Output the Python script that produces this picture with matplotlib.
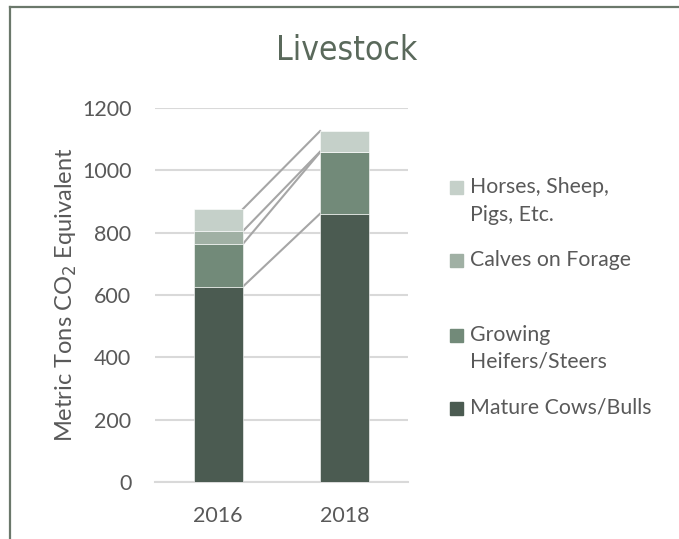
import matplotlib
matplotlib.use("Agg")
import matplotlib.pyplot as plt
from matplotlib.lines import Line2D
from matplotlib.patches import Rectangle
import numpy as np

years = ["2016", "2018"]
series = ["Mature Cows/Bulls", "Growing\nHeifers/Steers", "Calves on Forage", "Horses, Sheep,\nPigs, Etc."]
mature = [627, 861]
growing = [137, 197]
calves = [41, 2]
horses = [71, 66]
colors = ["#4b5b51", "#728a79", "#a0b0a4", "#c5d0c9"]

W, H = 679, 539
fig = plt.figure(figsize=(W / 100, H / 100), dpi=100)
ax = fig.add_axes([155 / W, 1 - 482 / H, (408 - 155) / W, (482 - 108) / H])

x = np.arange(len(years))
bw = 0.39
data = [mature, growing, calves, horses]
bottom = np.zeros(len(years))
tops = []
for vals, c in zip(data, colors):
    v = np.array(vals, dtype=float)
    ax.bar(x, v, bw, bottom=bottom, color=c, edgecolor="white", linewidth=0.4, zorder=3)
    bottom = bottom + v
    tops.append(bottom.copy())

for t in tops:
    ax.plot([x[0] + bw / 2, x[1] - bw / 2], [t[0], t[1]], color="#a6a6a6", lw=1.5, zorder=2)

ax.set_xlim(-0.5, 1.5)
ax.set_ylim(0, 1200)
ax.set_yticks(range(0, 1201, 200))
ax.set_xticks(x)
ax.set_xticklabels(years)
ax.yaxis.grid(True, color="#d9d9d9", lw=1.5, zorder=0)
ax.set_axisbelow(True)
for s in ["top", "right", "left"]:
    ax.spines[s].set_visible(False)
ax.spines["bottom"].set_color("#d9d9d9")
ax.spines["bottom"].set_linewidth(1.5)
ax.tick_params(length=0, labelsize=15.5, labelcolor="#595959")
ax.tick_params(axis="y", pad=17)
ax.tick_params(axis="x", pad=17)
for lab in ax.get_xticklabels() + ax.get_yticklabels():
    lab.set_fontfamily("Lato")
ax.set_ylabel("Metric Tons CO$_2$ Equivalent", fontsize=17, color="#595959",
              fontfamily="Lato", labelpad=2)

fig.text(347 / W, 1 - 50 / H, "Livestock", ha="center", va="center", fontsize=24,
         color="#5a695b", fontfamily="DejaVu Sans", fontstretch="condensed")

# legend
leg_entries = [(3, 187, 215), (2, 260, None), (1, 335, 362), (0, 408, None)]
for idx, y1, y2 in leg_entries:
    fig.patches.append(Rectangle((450 / W, 1 - (y1 + 6.5) / H), 13 / W, 13 / H,
                                 transform=fig.transFigure, color=colors[idx]))
    lines = series[idx].split("\n")
    fig.text(470 / W, 1 - y1 / H, lines[0], ha="left", va="center", fontsize=15.3,
             color="#595959", fontfamily="Lato")
    if y2 is not None:
        fig.text(470 / W, 1 - y2 / H, lines[1], ha="left", va="center", fontsize=15.3,
                 color="#595959", fontfamily="Lato")

# frame
fig.add_artist(Line2D([10 / W, 1], [1 - 7 / H, 1 - 7 / H], transform=fig.transFigure,
                      color="#6b786b", lw=1.6))
fig.add_artist(Line2D([10 / W, 10 / W], [1 - 7 / H, 0], transform=fig.transFigure,
                      color="#6b786b", lw=1.6))

fig.savefig("out.png", dpi=100, facecolor="white")
